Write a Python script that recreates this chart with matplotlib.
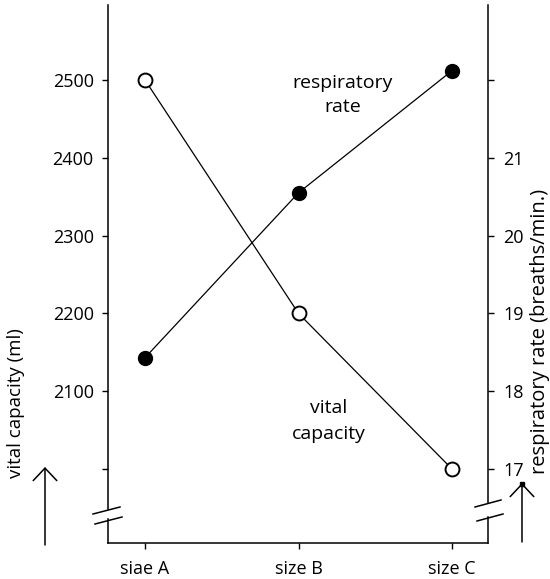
import matplotlib
matplotlib.use("Agg")
import matplotlib.pyplot as plt
from matplotlib.lines import Line2D
from matplotlib.patches import FancyArrowPatch, ArrowStyle

plt.rcParams['font.family'] = ['Open Sans', 'DejaVu Sans']

# ---- data ----
categories = ["siae A", "size B", "size C"]
vital_capacity = [2500, 2200, 2000]          # ml (left axis)
respiratory_rate = [18.43, 20.55, 22.12]     # breaths/min (right axis)
left_ticks = [2000, 2100, 2200, 2300, 2400, 2500]
left_ticklabels = ["", "2100", "2200", "2300", "2400", "2500"]
right_ticks = [17, 18, 19, 20, 21, 22]
right_ticklabels = ["17", "18", "19", "20", "21", ""]

W, H = 550, 579
fig = plt.figure(figsize=(W / 100, H / 100), dpi=100)

def px(x, y):
    return (x / W, 1 - y / H)

# axes box in pixels
L, R, T, B = 108, 488, 5, 543
ax = fig.add_axes([L / W, 1 - B / H, (R - L) / W, (B - T) / H])
ax2 = ax.twinx()

unit = (452 - 145) / 2.0
ax.set_xlim(-(145 - L) / unit, 2 + (R - 452) / unit)
ppu = (469 - 80) / 500.0  # pixels per ml
ylo = 2000 - (B - 469) / ppu
yhi = 2500 + (80 - T) / ppu
ax.set_ylim(ylo, yhi)
ax2.set_ylim(17 + (ylo - 2000) / 100, 17 + (yhi - 2000) / 100)

for a in (ax, ax2):
    for s in a.spines.values():
        s.set_visible(False)
    a.patch.set_visible(False)

x = list(range(len(categories)))
ax.plot(x, vital_capacity, color='black', lw=0.9, marker='o', ms=10,
        mfc='white', mec='black', mew=1.4, zorder=3, clip_on=False)
ax2.plot(x, respiratory_rate, color='black', lw=0.9, marker='o', ms=10,
         mfc='black', mec='black', zorder=3, clip_on=False)

ax.set_xticks(x)
ax.set_xticklabels(categories, fontsize=13)
ax.set_yticks(left_ticks)
ax.set_yticklabels(left_ticklabels, fontsize=13)
ax2.set_yticks(right_ticks)
ax2.set_yticklabels(right_ticklabels, fontsize=13)
ax.tick_params(axis='x', direction='out', length=4.3, width=1, pad=8)
ax.tick_params(axis='y', direction='out', length=4.3, width=1, pad=6)
ax2.tick_params(axis='y', direction='out', length=4.3, width=1, pad=6.5)

# axis lines with breaks
segs = [
    [(L, T), (L, 509)], [(L, 519), (L, B)], [(L, B), (R, B)],
    [(R, B), (R, 517)], [(R, 503), (R, T)],
    [(93, 514), (120, 507)], [(95, 524), (122, 517)],
    [(475, 507), (501, 500)], [(477, 521), (503, 514)],
]
for (x0, y0), (x1, y1) in segs:
    p0, p1 = px(x0, y0), px(x1, y1)
    fig.add_artist(Line2D([p0[0], p1[0]], [p0[1], p1[1]], color='black',
                          lw=1.1, transform=fig.transFigure))

# arrows
style = ArrowStyle('->', head_length=9, head_width=8.5)
for (xa, yb, yt) in [(45, 545, 467), (522, 542, 483)]:
    fig.add_artist(FancyArrowPatch(px(xa, yb), px(xa, yt), arrowstyle=style,
                                   mutation_scale=1, lw=1.1, color='black',
                                   transform=fig.transFigure, shrinkA=0, shrinkB=0))
sq = px(522, 484)
fig.add_artist(Line2D([sq[0]], [sq[1]], marker='s', ms=3, color='black',
                      transform=fig.transFigure))

# axis titles
fig.text(*px(16, 403), "vital capacity (ml)", rotation=90, ha='center',
         va='center', fontsize=13.5)
fig.text(*px(540, 331), "respiratory rate (breaths/min.)", rotation=90,
         ha='center', va='center', fontsize=14.5)

# in-plot labels
fig.text(*px(343, 95), "respiratory\nrate", ha='center', va='center',
         fontsize=14, linespacing=1.45)
fig.text(*px(329, 421), "vital\ncapacity", ha='center', va='center',
         fontsize=14, linespacing=1.55)

fig.savefig("out.png", dpi=100)
